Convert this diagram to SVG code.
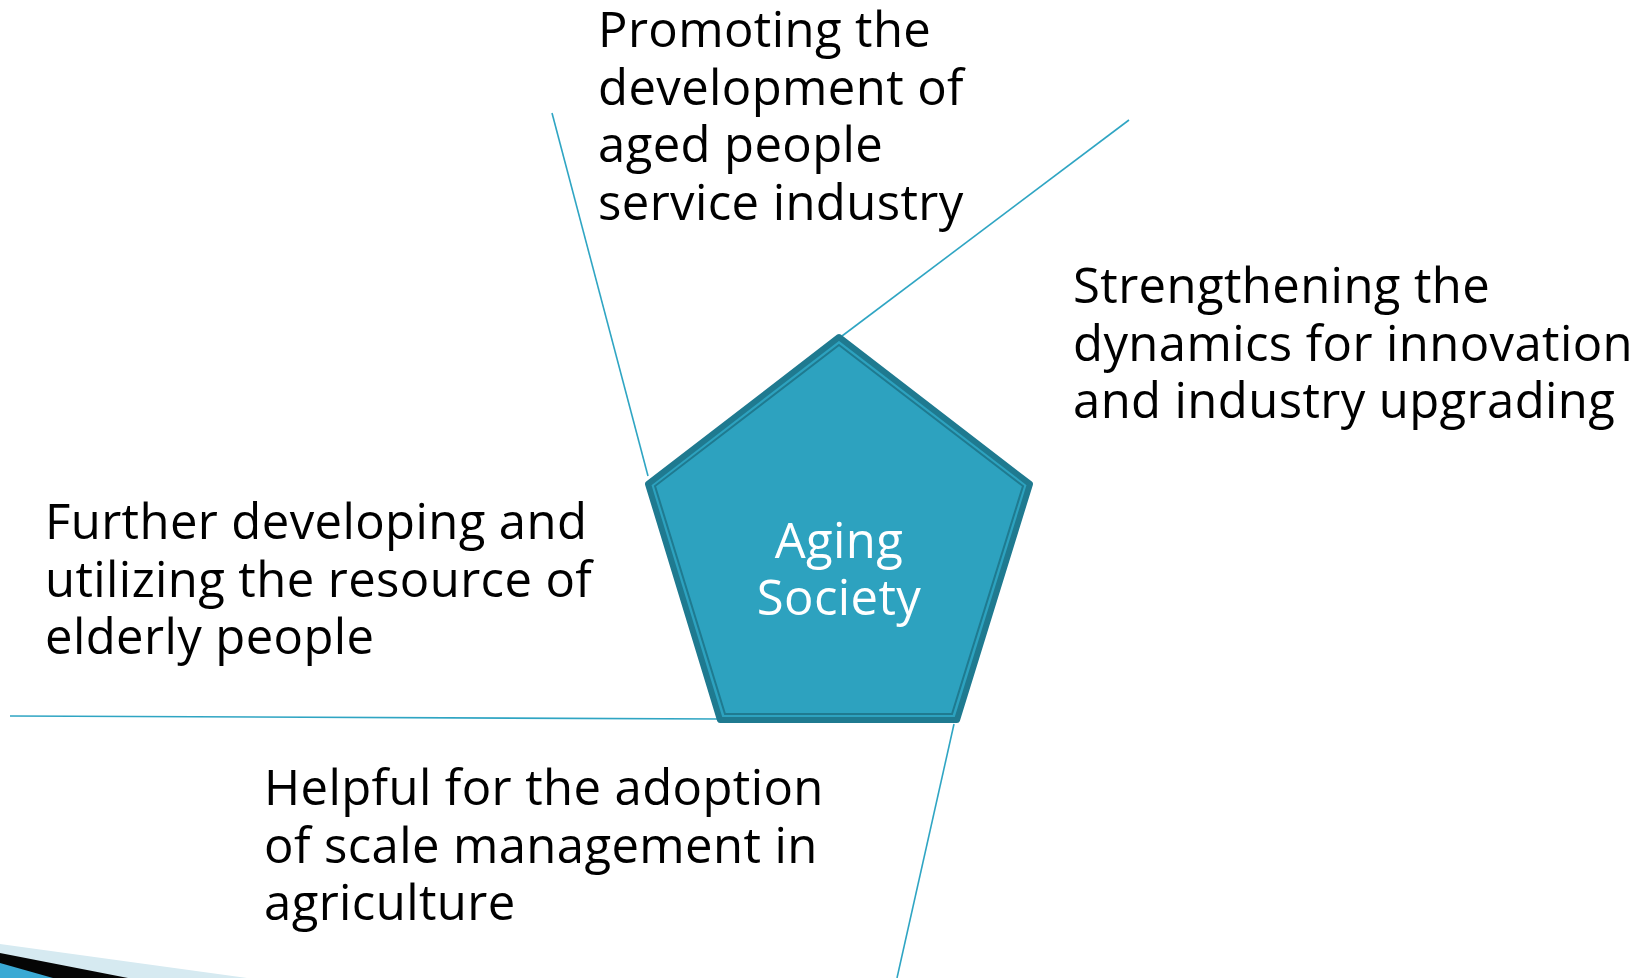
<svg xmlns="http://www.w3.org/2000/svg" width="1639" height="978" viewBox="0 0 1639 978">
  <style>
    .label { font-family: "Open Sans", "Noto Sans", "DejaVu Sans", sans-serif; font-size: 49px; fill: #000000; letter-spacing: 0.4px; }
    .center-label { font-family: "Open Sans", "Noto Sans", "DejaVu Sans", sans-serif; font-size: 49px; fill: #ffffff; text-anchor: middle; letter-spacing: 0.4px; }
    .spoke { stroke: #2fa5c3; stroke-width: 1.6; fill: none; }
  </style>
  <rect width="1639" height="978" fill="#ffffff"/>

  <!-- corner swoosh -->
  <g id="corner-swoosh">
    <polygon points="0,944 247,978 0,978" fill="#d6eaf1"/>
    <polygon points="0,953 128,978 0,978" fill="#050505"/>
    <polygon points="0,963 53,978 0,978" fill="#3aa9d4"/>
  </g>

  <!-- spokes radiating from the pentagon -->
  <g id="connectors">
    <line class="spoke" x1="552" y1="113" x2="648" y2="476"/>
    <line class="spoke" x1="1129" y1="120" x2="842" y2="336"/>
    <line class="spoke" x1="10" y1="716" x2="720" y2="719"/>
    <line class="spoke" x1="954" y1="724" x2="897" y2="978"/>
  </g>

  <!-- central pentagon -->
  <g id="node-aging-society">
    <polygon points="839,337 1030,484 957,720 720,720 648,484" fill="#2da2bf" stroke="#1f7a90" stroke-width="6" stroke-linejoin="round"/>
    <polygon points="839,345 1023,486 952,714 725,714 655,486" fill="none" stroke="#1f7a90" stroke-width="2" stroke-linejoin="miter"/>
    <text class="center-label" x="839" y="558">Aging</text>
    <text class="center-label" x="839" y="615">Society</text>
  </g>

  <g id="node-service-industry">
    <text class="label" x="598" y="47">Promoting the</text>
    <text class="label" x="598" y="104.5">development of</text>
    <text class="label" x="598" y="162">aged people</text>
    <text class="label" x="598" y="219.5">service industry</text>
  </g>

  <g id="node-innovation">
    <text class="label" x="1073" y="303">Strengthening the</text>
    <text class="label" x="1073" y="360.5">dynamics for innovation</text>
    <text class="label" x="1073" y="418">and industry upgrading</text>
  </g>

  <g id="node-elderly-resource">
    <text class="label" x="45" y="539">Further developing and</text>
    <text class="label" x="45" y="596.5">utilizing the resource of</text>
    <text class="label" x="45" y="654">elderly people</text>
  </g>

  <g id="node-agriculture">
    <text class="label" x="264" y="805">Helpful for the adoption</text>
    <text class="label" x="264" y="862.5">of scale management in</text>
    <text class="label" x="264" y="920">agriculture</text>
  </g>
</svg>
